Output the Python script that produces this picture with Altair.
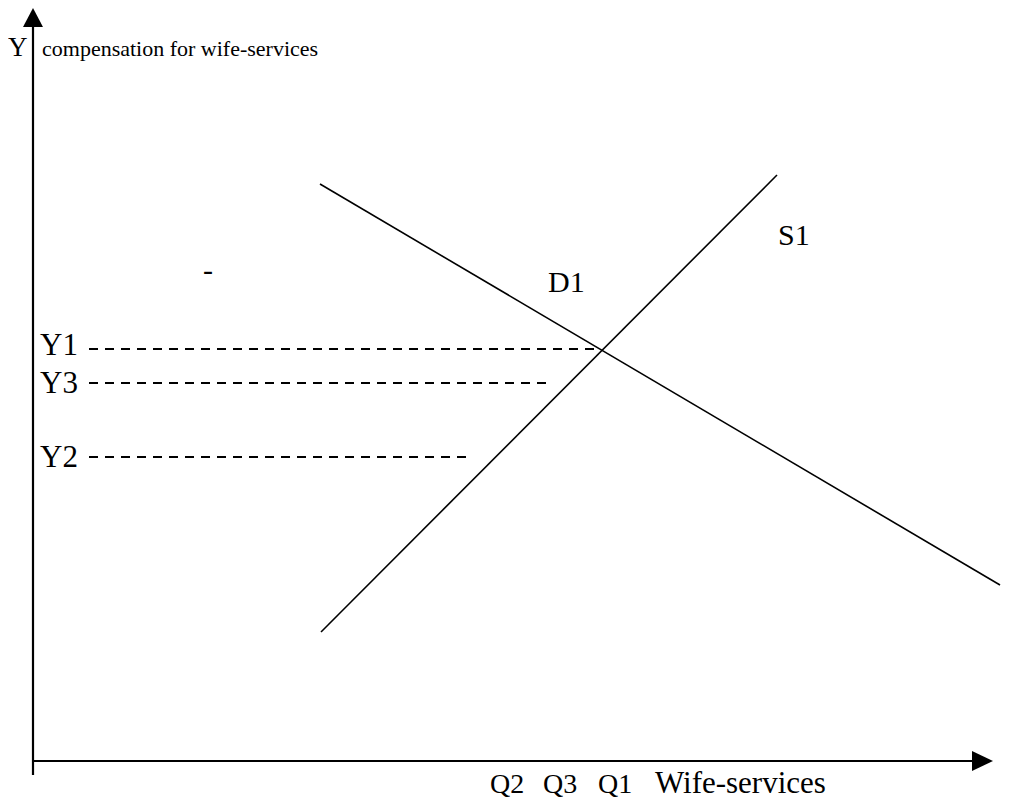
import altair as alt
import pandas as pd

# ---- chart values (chart units: origin where the two axes cross) ----
supply_q = [288, 744]
supply_p = [129, 586]
demand_q = [287, 967]
demand_p = [577, 176]

price_labels = ["Y1", "Y3", "Y2"]
price_levels = [412, 378, 304]
price_dash_end = [564, 517, 437]
dash_start = 56

qty_labels = ["Q2", "Q3", "Q1"]
qty_label_pos = [457, 510, 565]

y_axis_title = "compensation for wife-services"
x_axis_title = "Wife-services"

X_DOM = [-25, 969]
Y_DOM = [-38, 753]
FONT = "Liberation Serif"


def X(field="x"):
    return alt.X(f"{field}:Q", scale=alt.Scale(domain=X_DOM, nice=False, zero=False), axis=None)


def Y(field="y"):
    return alt.Y(f"{field}:Q", scale=alt.Scale(domain=Y_DOM, nice=False, zero=False), axis=None)


# axes
axes_df = pd.DataFrame({
    "x": [0, 0], "x2": [0, 939],
    "y": [-14, 0], "y2": [734, 0],
})
axes = alt.Chart(axes_df).mark_rule(color="black", strokeWidth=2.2).encode(
    x=X(), x2="x2:Q", y=Y(), y2="y2:Q"
)

up_arrow = alt.Chart(pd.DataFrame({"x": [0], "y": [743.5]})).mark_point(
    shape="M0,-1L1.05,1L-1.05,1Z", filled=True, color="black", opacity=1, size=361
).encode(x=X(), y=Y())

right_arrow = alt.Chart(pd.DataFrame({"x": [949.5], "y": [0]})).mark_point(
    shape="M1,0L-1,0.95L-1,-0.95Z", filled=True, color="black", opacity=1, size=441
).encode(x=X(), y=Y())

# curves
curves_df = pd.DataFrame({
    "x": supply_q + demand_q,
    "y": supply_p + demand_p,
    "curve": ["S1", "S1", "D1", "D1"],
})
curves = alt.Chart(curves_df).mark_line(color="black", strokeWidth=1.6).encode(
    x=X(), y=Y(), detail="curve:N"
)

# dashed price levels
dash_df = pd.DataFrame({
    "x": [dash_start] * 3, "x2": price_dash_end, "y": price_levels,
})
dashes = alt.Chart(dash_df).mark_rule(color="black", strokeWidth=2, strokeDash=[9, 7]).encode(
    x=X(), x2="x2:Q", y=Y()
)

# text annotations
texts_df = pd.DataFrame({
    "label": ["Y", y_axis_title] + price_labels + ["D1", "S1", "-"] + qty_labels + [x_axis_title],
    "x": [-25, 9] + [7, 7, 7] + [515, 745, 170] + qty_label_pos + [622],
    "y": [705, 705] + [406, 368, 294] + [469, 516, 481] + [-32, -32, -32, -32],
    "size": [27, 22] + [31, 31, 31] + [30, 30, 30] + [28, 28, 28, 31],
})
texts = alt.Chart(texts_df).mark_text(
    font=FONT, align="left", baseline="alphabetic", color="black"
).encode(
    x=X(), y=Y(), text="label:N", size=alt.Size("size:Q", scale=None)
)

chart = alt.layer(axes, up_arrow, right_arrow, curves, dashes, texts).properties(
    width=994, height=791, padding=0,
    autosize=alt.AutoSizeParams(type="none"),
    background="white",
).configure_view(stroke=None)

chart.save("out.html", embed_options={"renderer": "svg", "actions": False})
